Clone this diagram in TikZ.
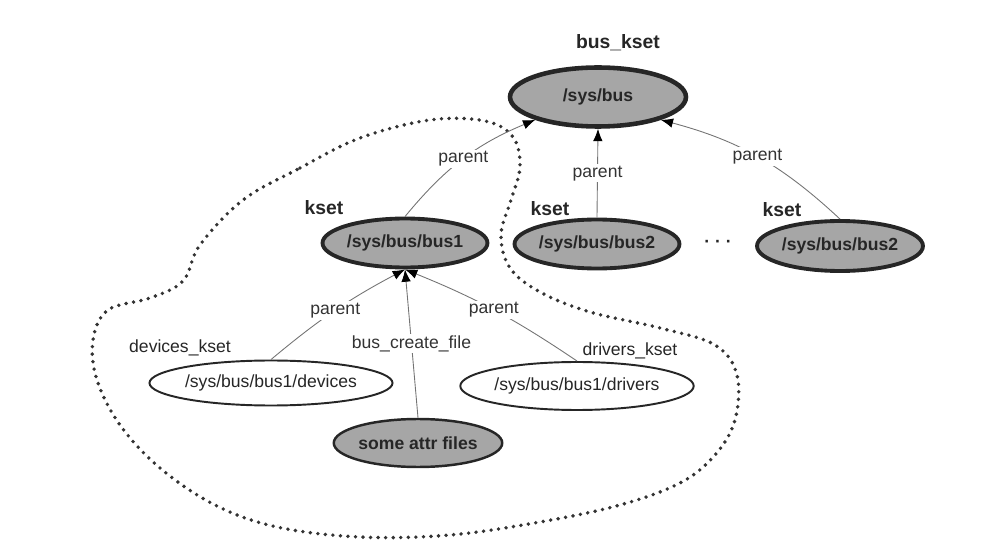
\documentclass[tikz,border=0pt]{standalone}
\usepackage{fontspec}
\setmainfont{Liberation Sans}
\usetikzlibrary{arrows, arrows.meta, shapes.geometric}

\begin{document}
\begin{tikzpicture}[x=0.02cm, y=-0.02cm,
    >={Latex[black, length=7pt, width=5.4pt]},
    kobj/.style={ellipse, draw=black!85, fill=black!35, line width=2.2pt, inner sep=0pt,
        minimum width=3.3cm, minimum height=0.98cm, text=black!85, font=\bfseries},
    fobj/.style={ellipse, draw=black!85, fill=white, line width=1.1pt, inner sep=0pt, text=black!85},
    klabel/.style={text=black!85, font=\fontsize{11}{13}\selectfont\bfseries},
    plabel/.style={text=black!85},
    lbl/.style={fill=white, inner sep=1pt, text=black!80},
    rel/.style={->, draw=black!55, line width=0.5pt},
    blob/.style={draw=black!80, line width=2.2pt, line cap=round, dash pattern=on 0pt off 4.3pt}]

\useasboundingbox (0,0) rectangle (998,557);

% the dotted region round bus1
\draw[blob] plot[smooth cycle, tension=0.6] coordinates {
    (243,200) (300,168) (360,138) (430,120) (485,121) (513,137) (520,167) (511,200)
    (501,235) (510,268) (540,292) (590,312) (660,328) (715,345) (737,375) (735,420)
    (715,455) (680,483) (620,505) (540,522) (450,535) (360,537) (277,527) (215,505)
    (160,468) (120,425) (97,380) (93,340) (108,310) (150,298) (183,281) (200,245)};

% kset objects
\node[kobj, minimum width=3.52cm, minimum height=1.18cm, line width=2.6pt] (sysbus) at (598,97) {/sys/bus};
\node[klabel] (buskset) at (618,43) {bus\_kset};

\node[kobj] (bus1) at (405,243) {/sys/bus/bus1};
\node[kobj] (bus2) at (597,244) {/sys/bus/bus2};
\node[kobj, minimum width=3.32cm, minimum height=1cm] (bus3) at (840,246) {/sys/bus/bus2};
\node[klabel] (kset1) at (324,208) {kset};
\node[klabel] (kset2) at (550,209) {kset};
\node[klabel] (kset3) at (782,210) {kset};
\node[plabel, font=\bfseries] (more) at (718,244) {· · ·};

% below bus1
\node[fobj, minimum width=4.44cm, minimum height=0.9cm] (devices) at (271,383) {/sys/bus/bus1/devices};
\node[fobj, minimum width=4.4cm, minimum height=0.96cm] (drivers) at (577,386) {/sys/bus/bus1/drivers};
\node[kobj, line width=1.4pt, minimum width=3.12cm, minimum height=0.96cm] (attr) at (418,443) {some attr files};
\node[plabel] (devkset) at (180,348) {devices\_kset};
\node[plabel] (drvkset) at (630,351) {drivers\_kset};

% parent links
\draw[rel] (bus1.north) to[bend left=14] node[lbl] {parent} (sysbus.200);
\draw[rel] (bus2.north) -- node[lbl] {parent} (sysbus.south);
\draw[rel] (bus3.north) to[bend right=14] node[lbl] {parent} (sysbus.340);

\draw[rel] (devices.north) to[bend left=6] node[lbl] {parent} (bus1.south);
\draw[rel] (drivers.north) to[bend right=6] node[lbl] {parent} (bus1.south);
\draw[rel] (attr.north) -- node[lbl] {bus\_create\_file} (bus1.south);

\end{tikzpicture}
\end{document}
